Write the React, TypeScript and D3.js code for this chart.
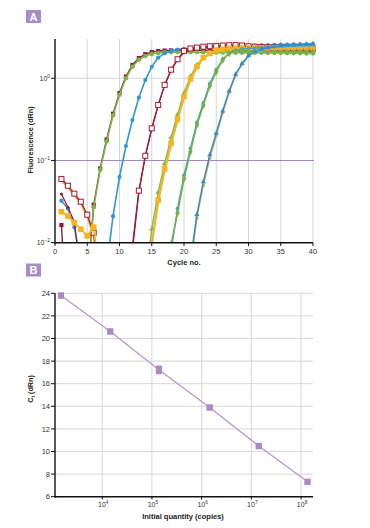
import React from 'react';
import * as d3 from 'd3';

// ---------- Panel A data ----------
const cycles = [1,2,3,4,5,6,7,8,9,10,11,12,13,14,15,16,17,18,19,20,21,22,23,24,25,26,27,28,29,30,31,32,33,34,35,36,37,38,39,40];
const cycleTicks = [0,5,10,15,20,25,30,35,40];
const threshold = 0.1;

const maroonSq = [0.0164,0.0006,0.0005,0.0007,0.003,0.029,0.08,0.18,0.37,0.66, 1.05,1.45,1.76,1.96,2.08,2.14,2.17,2.18,2.18,2.18, 2.18,2.18,2.18,2.17,2.17,2.17,2.17,2.16,2.16,2.16, 2.16,2.15,2.15,2.15,2.14,2.14,2.14,2.13,2.13,2.12];
const greenCirc = [0.0005,0.0005,0.0005,0.0005,0.003,0.027,0.077,0.17,0.355,0.63, 1.0,1.38,1.68,1.86,1.97,2.03,2.06,2.08,2.08,2.08, 2.08,2.08,2.07,2.07,2.07,2.06,2.06,2.06,2.05,2.05, 2.05,2.05,2.04,2.04,2.04,2.03,2.03,2.03,2.02,2.02];
const blueCirc = [0.0324,0.026,0.0154,0.006,0.002,0.001,0.001,0.005,0.021,0.063, 0.15,0.31,0.58,0.95,1.38,1.78,2.01,2.15,2.23,2.28, 2.31,2.34,2.36,2.38,2.4,2.42,2.44,2.46,2.47,2.49, 2.5,2.52,2.53,2.55,2.56,2.57,2.58,2.59,2.6,2.61];
const orangeA = [0.057,0.047,0.0378,0.03,0.0205,0.0122,0.002,0.0005,0.0005,0.0005, 0.0005,0.0005,0.0005,0.0005,0.0095,0.031,0.075,0.155,0.31,0.58, 0.95,1.35,1.75,1.98,2.15,2.22,2.27,2.3,2.31,2.32, 2.32,2.33,2.33,2.33,2.34,2.34,2.34,2.35,2.35,2.35];
const darkRed = [0.039,0.027,0.018,0.004,0.0005,0.0005,0.0005,0.0005,0.0005,0.0005, 0.0005,0.008,0.041,0.112,0.243,0.468,0.82,1.25,1.68,2.05, 2.22,2.3,2.35,2.37,2.38,2.38,2.38,2.37,2.36,2.35, 2.34,2.33,2.32,2.31,2.3,2.29,2.28,2.27,2.26,2.25];
const redHollow = [0.0596,0.0493,0.0395,0.0315,0.0219,0.0132,0.002,0.0005,0.0005,0.0005, 0.0005,0.009,0.043,0.114,0.246,0.473,0.83,1.27,1.7,2.15, 2.3,2.36,2.42,2.45,2.47,2.5,2.52,2.53,2.5,2.45, 2.42,2.4,2.38,2.37,2.36,2.35,2.34,2.33,2.32,2.3];
const greenTri = [0.0005,0.0005,0.0005,0.0005,0.0005,0.0005,0.0005,0.0005,0.0005,0.0005, 0.0005,0.0005,0.0005,0.003,0.0146,0.041,0.092,0.19,0.36,0.66, 1.05,1.45,1.78,1.96,2.04,2.07,2.08,2.08,2.08,2.07, 2.07,2.07,2.06,2.06,2.06,2.05,2.05,2.05,2.04,2.04];
const yellowSq = [0.0238,0.0211,0.0175,0.0146,0.0121,0.0155,0.003,0.0005,0.0005,0.0005, 0.0005,0.0005,0.0005,0.0005,0.0095,0.033,0.079,0.162,0.317,0.597, 0.98,1.38,1.78,2.0,2.2,2.25,2.3,2.32,2.33,2.33, 2.34,2.34,2.34,2.34,2.35,2.35,2.35,2.35,2.35,2.35];
const blueB = [0.0005,0.0005,0.0005,0.0005,0.0005,0.0005,0.0005,0.0005,0.0005,0.0005, 0.0005,0.0005,0.0005,0.0005,0.0005,0.0005,0.0005,0.008,0.026,0.066, 0.14,0.29,0.5,0.86,1.27,1.7,2.02,2.18,2.26,2.3, 2.33,2.36,2.38,2.4,2.42,2.44,2.46,2.47,2.48,2.5];
const greenDia = [0.0005,0.0005,0.0005,0.0005,0.0005,0.0005,0.0005,0.0005,0.0005,0.0005, 0.0005,0.0005,0.0005,0.0005,0.0005,0.0005,0.001,0.0095,0.023,0.06, 0.128,0.27,0.47,0.81,1.2,1.67,2.01,2.1,2.12,2.12, 2.11,2.11,2.1,2.1,2.09,2.09,2.08,2.08,2.07,2.07];
const orangeB = [0.0005,0.0005,0.0005,0.0005,0.0005,0.0005,0.0005,0.0005,0.0005,0.0005, 0.0005,0.0005,0.0005,0.0005,0.0005,0.0005,0.0005,0.0005,0.0005,0.001, 0.005,0.02,0.05,0.105,0.2,0.38,0.67,1.08,1.48,1.86, 2.08,2.2,2.26,2.3,2.32,2.33,2.34,2.35,2.35,2.36];
const blueDia = [0.0005,0.0005,0.0005,0.0005,0.0005,0.0005,0.0005,0.0005,0.0005,0.0005, 0.0005,0.0005,0.0005,0.0005,0.0005,0.0005,0.0005,0.0005,0.0005,0.001, 0.006,0.022,0.055,0.117,0.214,0.4,0.7,1.12,1.51,1.88, 2.1,2.25,2.35,2.42,2.47,2.51,2.54,2.57,2.59,2.61];

// ---------- Panel B data ----------
const quantities = [1.48e3, 1.45e4, 1.38e5, 1.45e6, 1.41e7, 1.35e8];
const ctRep1 = [23.82, 20.64, 17.1, 13.9, 10.5, 7.33];
const ctRep2 = [23.78, 20.6, 17.35, 13.88, 10.46, 7.3];
const ctTicks = [6, 8, 10, 12, 14, 16, 18, 20, 22, 24];
const qtyTickExps = [4, 5, 6, 7, 8];

type Shape = 'circle' | 'square' | 'hollow' | 'triangle' | 'diamond' | 'none' | 'dot';
interface Series { values: number[]; color: string; shape: Shape; size: number; width: number; }

const seriesA: Series[] = [
  { values: maroonSq, color: '#8e1b40', shape: 'square', size: 2.1, width: 1.4 },
  { values: greenCirc, color: '#7ab648', shape: 'circle', size: 2.3, width: 1.6 },
  { values: blueCirc, color: '#2f97d4', shape: 'circle', size: 2.1, width: 1.6 },
  { values: orangeA, color: '#f3ac2c', shape: 'none', size: 0, width: 1.8 },
  { values: darkRed, color: '#9a1533', shape: 'dot', size: 1.5, width: 1.2 },
  { values: redHollow, color: '#a8182f', shape: 'hollow', size: 2.5, width: 1.3 },
  { values: greenTri, color: '#84bb52', shape: 'triangle', size: 2.0, width: 1.5 },
  { values: yellowSq, color: '#f6b31d', shape: 'square', size: 2.8, width: 1.8 },
  { values: blueB, color: '#3aa0da', shape: 'circle', size: 1.9, width: 1.4 },
  { values: greenDia, color: '#76b146', shape: 'diamond', size: 2.4, width: 1.6 },
  { values: orangeB, color: '#f0a93a', shape: 'circle', size: 1.7, width: 1.4 },
  { values: blueDia, color: '#2d8fcf', shape: 'triangle', size: 1.9, width: 1.5 },
];

const FONT = '"Liberation Sans", Arial, sans-serif';
const PURPLE = '#a88bc6';
const GRID = '#d6d6d6';
const TXT = '#333';

function Marker({ x, y, s }: { x: number; y: number; s: Series }) {
  const r = s.size;
  switch (s.shape) {
    case 'circle': return <circle cx={x} cy={y} r={r} fill={s.color} />;
    case 'dot': return <circle cx={x} cy={y} r={r} fill={s.color} />;
    case 'square': return <rect x={x - r} y={y - r} width={2 * r} height={2 * r} fill={s.color} />;
    case 'hollow': return <rect x={x - r} y={y - r} width={2 * r} height={2 * r} fill="#fff" stroke={s.color} strokeWidth={1} />;
    case 'triangle': return <path transform={`translate(${x},${y})`} d={d3.symbol(d3.symbolTriangle, r * r * 3.2)() || ''} fill={s.color} />;
    case 'diamond': return <path transform={`translate(${x},${y})`} d={d3.symbol(d3.symbolDiamond, r * r * 3)() || ''} fill={s.color} />;
    default: return null;
  }
}

export default function App() {
  // Panel A scales
  const xA = d3.scaleLinear().domain([0, 40]).range([55, 313]);
  const yA = d3.scaleLog().domain([0.01, 3]).range([242.7, 39]);
  const lineA = d3.line<number>().x((_, i) => xA(cycles[i])).y((d) => yA(d));

  // Panel B scales
  const xB = d3.scaleLog().domain([Math.pow(10, 3.05), Math.pow(10, 8.24)]).range([55, 313]);
  const yB = d3.scaleLinear().domain([6, 24]).range([496.7, 293.3]);
  const ctMean = ctRep1.map((v, i) => (v + ctRep2[i]) / 2);
  const lineB = d3.line<number>().x((_, i) => xB(quantities[i])).y((d) => yB(d));

  const yAticks = [
    { v: 1, exp: '0' },
    { v: 0.1, exp: '−1' },
    { v: 0.01, exp: '−2' },
  ];

  return (
    <svg width={370} height={528} style={{ position: 'absolute', left: 0, top: 0, background: '#fff' }} fontFamily={FONT}>
      <defs>
        <clipPath id="clipA"><rect x={50} y={34} width={268} height={209} /></clipPath>
      </defs>

      {/* ===== Panel A ===== */}
      <rect x={26} y={10} width={15} height={13} fill={PURPLE} />
      <text x={33.5} y={20.5} textAnchor="middle" fill="#fff" fontWeight="bold" fontSize={11}>A</text>

      {/* grid */}
      {cycleTicks.filter((t) => t > 0).map((t) => (
        <line key={'ga' + t} x1={xA(t)} x2={xA(t)} y1={39} y2={242.7} stroke={GRID} strokeWidth={1} />
      ))}
      <line x1={55} x2={313} y1={yA(1)} y2={yA(1)} stroke={GRID} strokeWidth={1} />
      <line x1={55} x2={314} y1={yA(threshold)} y2={yA(threshold)} stroke="#a587c0" strokeWidth={1.1} />

      {/* curves */}
      <g clipPath="url(#clipA)">
        {seriesA.map((s, si) => (
          <g key={'s' + si}>
            <path d={lineA(s.values) || ''} fill="none" stroke={s.color} strokeWidth={s.width} strokeLinejoin="round" />
            {s.values.map((v, i) => (
              <Marker key={i} x={xA(cycles[i])} y={yA(v)} s={s} />
            ))}
          </g>
        ))}
      </g>

      {/* axes */}
      <line x1={55} x2={55} y1={39} y2={243.4} stroke="#111" strokeWidth={1.4} />
      <line x1={54.3} x2={313} y1={242.7} y2={242.7} stroke="#111" strokeWidth={1.4} />
      {yAticks.map((t) => (
        <g key={'ya' + t.exp}>
          <line x1={51} x2={55} y1={yA(t.v)} y2={yA(t.v)} stroke="#111" strokeWidth={1} />
          <text x={50} y={yA(t.v) + 2.5} textAnchor="end" fontSize={7} fill={TXT}>
            <tspan>10</tspan>
            <tspan dy={-3} fontSize={4.8}>{t.exp}</tspan>
          </text>
        </g>
      ))}
      {cycleTicks.map((t) => (
        <g key={'xa' + t}>
          <line x1={xA(t)} x2={xA(t)} y1={242.7} y2={246} stroke="#111" strokeWidth={1} />
          <text x={xA(t)} y={253.5} textAnchor="middle" fontSize={7.5} fill={TXT}>{t}</text>
        </g>
      ))}
      <text x={184} y={265} textAnchor="middle" fontSize={7.5} fontWeight="bold" fill="#222">Cycle no.</text>
      <text transform="translate(32.5,140) rotate(-90)" textAnchor="middle" fontSize={7.2} fontWeight="bold" fill="#222">Fluorescence (dRn)</text>

      {/* ===== Panel B ===== */}
      <rect x={26} y={263.5} width={15} height={13} fill={PURPLE} />
      <text x={33.5} y={274} textAnchor="middle" fill="#fff" fontWeight="bold" fontSize={11}>B</text>

      {ctTicks.filter((t) => t > 6).map((t) => (
        <line key={'gb' + t} x1={55} x2={313} y1={yB(t)} y2={yB(t)} stroke={GRID} strokeWidth={1} />
      ))}
      {qtyTickExps.map((e) => (
        <line key={'gbx' + e} x1={xB(Math.pow(10, e))} x2={xB(Math.pow(10, e))} y1={293.3} y2={496.7} stroke={GRID} strokeWidth={1} />
      ))}

      <path d={lineB(ctMean) || ''} fill="none" stroke="#b797d2" strokeWidth={1.3} />
      {[ctRep1, ctRep2].map((rep, ri) =>
        rep.map((v, i) => (
          <rect key={ri + '-' + i} x={xB(quantities[i]) - 3} y={yB(v) - 3} width={6} height={6} fill="#a98bc5" />
        ))
      )}

      <line x1={55} x2={55} y1={293.3} y2={497.4} stroke="#111" strokeWidth={1.4} />
      <line x1={54.3} x2={313} y1={496.7} y2={496.7} stroke="#111" strokeWidth={1.4} />
      {ctTicks.map((t) => (
        <g key={'yb' + t}>
          <line x1={51} x2={55} y1={yB(t)} y2={yB(t)} stroke="#111" strokeWidth={1} />
          <text x={50} y={yB(t) + 2.6} textAnchor="end" fontSize={7.5} fill={TXT}>{t}</text>
        </g>
      ))}
      {qtyTickExps.map((e) => (
        <g key={'xb' + e}>
          <line x1={xB(Math.pow(10, e))} x2={xB(Math.pow(10, e))} y1={496.7} y2={499.5} stroke="#111" strokeWidth={1} />
          <text x={xB(Math.pow(10, e)) + 1} y={507} textAnchor="middle" fontSize={7} fill={TXT}>
            <tspan>10</tspan>
            <tspan dy={-3} fontSize={4.8}>{e}</tspan>
          </text>
        </g>
      ))}
      <text x={183} y={519} textAnchor="middle" fontSize={7.5} fontWeight="bold" fill="#222">Initial quantity (copies)</text>
      <text transform="translate(32.5,389) rotate(-90)" textAnchor="middle" fontSize={7.2} fontWeight="bold" fill="#222">
        <tspan>C</tspan>
        <tspan dy={2} fontSize={5}>t</tspan>
        <tspan dy={-2}> (dRn)</tspan>
      </text>
    </svg>
  );
}
